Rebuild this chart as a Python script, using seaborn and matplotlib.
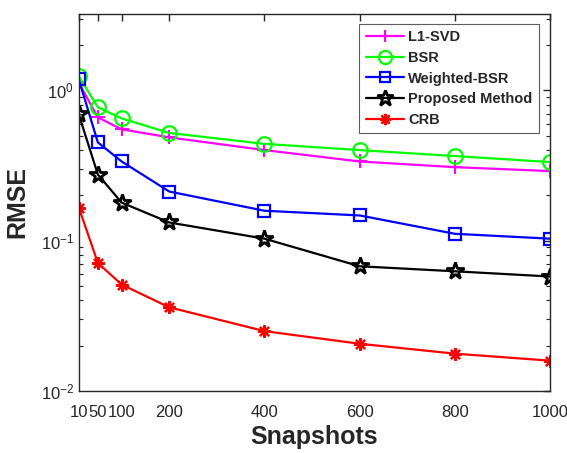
import numpy as np
import pandas as pd
import matplotlib
matplotlib.use("Agg")
import matplotlib.pyplot as plt
import seaborn as sns
from matplotlib.ticker import FixedLocator, LogLocator, NullFormatter

snapshots = [10, 50, 100, 200, 400, 600, 800, 1000]
l1_svd = [1.12, 0.66, 0.55, 0.486, 0.40, 0.336, 0.308, 0.29]
bsr = [1.24, 0.77, 0.65, 0.52, 0.44, 0.40, 0.365, 0.333]
weighted_bsr = [1.18, 0.45, 0.336, 0.212, 0.158, 0.147, 0.111, 0.103]
proposed = [0.69, 0.275, 0.179, 0.132, 0.103, 0.0675, 0.0625, 0.0577]
crb = [0.166, 0.071, 0.051, 0.036, 0.025, 0.0206, 0.0177, 0.0159]
xtick_labels = ["10", "50", "100", "200", "400", "600", "800", "1000"]

series = [
    ("L1-SVD", l1_svd, "#ff00ff", "+", dict(markersize=10, markeredgewidth=1.5)),
    ("BSR", bsr, "#00ff00", "o", dict(markersize=10.5, markerfacecolor="none", markeredgewidth=1.6)),
    ("Weighted-BSR", weighted_bsr, "#0000ff", "s", dict(markersize=8, markerfacecolor="none", markeredgewidth=1.6)),
    ("Proposed Method", proposed, "#000000", "*", dict(markersize=13, markerfacecolor="none", markeredgewidth=2.0)),
    ("CRB", crb, "#ff0000", (8, 2, 0), dict(markersize=9, markeredgewidth=1.6)),
]

sns.set_theme(style="white")
plt.rcParams["font.family"] = ["Liberation Sans", "DejaVu Sans"]
plt.rcParams["mathtext.fontset"] = "custom"
plt.rcParams["mathtext.rm"] = "Liberation Sans"
plt.rcParams["mathtext.it"] = "Liberation Sans:italic"
plt.rcParams["mathtext.bf"] = "Liberation Sans:bold"

fig = plt.figure(figsize=(5.67, 4.53), dpi=100)
ax = fig.add_axes([0.139, 0.137, 0.831, 0.832])

for name, vals, color, marker, kw in series:
    df = pd.DataFrame({"Snapshots": snapshots, "RMSE": vals})
    sns.lineplot(data=df, x="Snapshots", y="RMSE", ax=ax, color=color, marker=marker,
                 linewidth=1.6, label=name, markeredgecolor=color, **kw)

ax.set_yscale("log")
ax.set_xlim(10, 1000)
ax.set_ylim(1e-2, 10 ** 0.507)
ax.xaxis.set_major_locator(FixedLocator(snapshots))
ax.set_xticklabels(xtick_labels)
ax.yaxis.set_major_locator(LogLocator(base=10, numticks=10))
ax.yaxis.set_minor_locator(LogLocator(base=10, subs=np.arange(2, 10), numticks=20))
ax.yaxis.set_minor_formatter(NullFormatter())

for sp in ax.spines.values():
    sp.set_color("#262626")
    sp.set_linewidth(1.0)
ax.tick_params(which="both", direction="in", top=True, right=True, color="#262626",
               labelcolor="#262626", labelsize=12)
ax.tick_params(which="major", length=5, width=1.0)
ax.tick_params(which="minor", length=3, width=0.8, left=True, right=True)
ax.tick_params(axis="x", pad=10)

ax.set_xlabel("Snapshots", fontsize=18, fontweight="bold", color="#262626", labelpad=4)
ax.set_ylabel("RMSE", fontsize=18, fontweight="bold", color="#262626", labelpad=8)

leg = ax.legend(loc="upper right", bbox_to_anchor=(0.977, 0.974), borderaxespad=0,
                prop={"weight": "bold", "size": 10.5}, frameon=True, fancybox=False,
                edgecolor="#333333", handlelength=2.6, borderpad=0.45, labelspacing=0.45,
                handletextpad=0.3, markerscale=0.9)
leg.get_frame().set_linewidth(0.8)

fig.savefig("out.png", dpi=100)
